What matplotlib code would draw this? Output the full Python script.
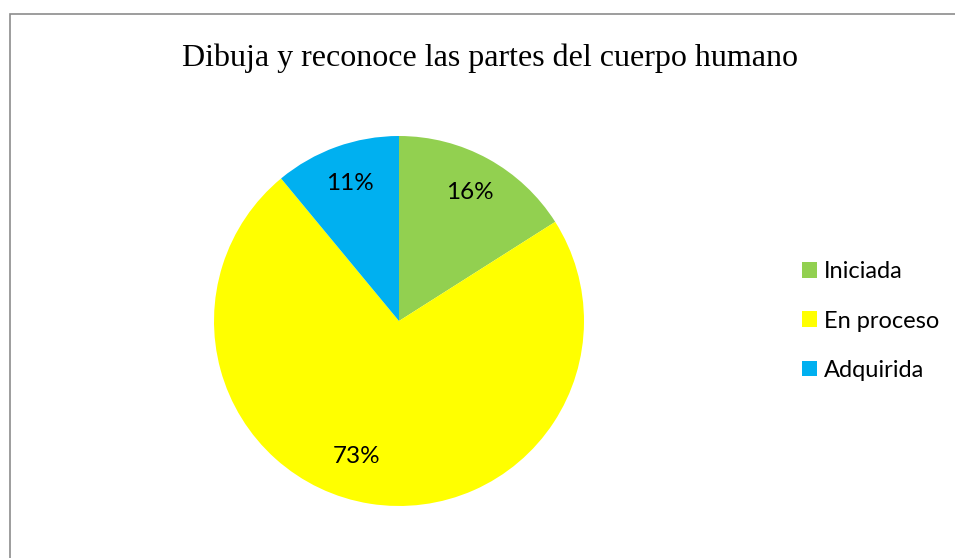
import matplotlib.pyplot as plt
from matplotlib.patches import Rectangle

labels = ["Iniciada", "En proceso", "Adquirida"]
values = [16, 73, 11]
colors = ["#92D050", "#FFFF00", "#00B0F0"]
title = "Dibuja y reconoce las partes del cuerpo humano"

W, H = 955, 558
fig = plt.figure(figsize=(W / 100, H / 100), dpi=100)

# chart border (runs off the right / bottom of the image)
fig.patches.append(Rectangle((10 / W, -0.1), 1.2, 1 - 14 / H + 0.1,
                             transform=fig.transFigure, fill=False,
                             edgecolor="#8c8c8c", linewidth=1.2))

cx, cy, r = 399, 321, 185
ax = fig.add_axes([(cx - r) / W, (H - cy - r) / H, 2 * r / W, 2 * r / H])
wedges, texts, autotexts = ax.pie(values, colors=colors, startangle=90,
                                  counterclock=False, radius=1,
                                  autopct="%d%%", pctdistance=0.79,
                                  textprops={"family": "Lato", "fontsize": 17.5})
autotexts[1].set_position((-0.227, -0.735))
ax.set_xlim(-1, 1)
ax.set_ylim(-1, 1)
ax.set_aspect("auto")
ax.axis("off")

fig.text(490 / W, 1 - 58 / H, title, family="Liberation Serif",
         fontsize=23, ha="center", va="center")

fig.legend(wedges, labels, loc="center left",
           bbox_to_anchor=(802 / W, 1 - 321 / H), frameon=False,
           prop={"family": "Lato", "size": 17},
           borderpad=0, borderaxespad=0,
           handlelength=0.64, handleheight=0.64, handletextpad=0.3,
           labelspacing=1.2)

fig.savefig("out.png", dpi=100)
